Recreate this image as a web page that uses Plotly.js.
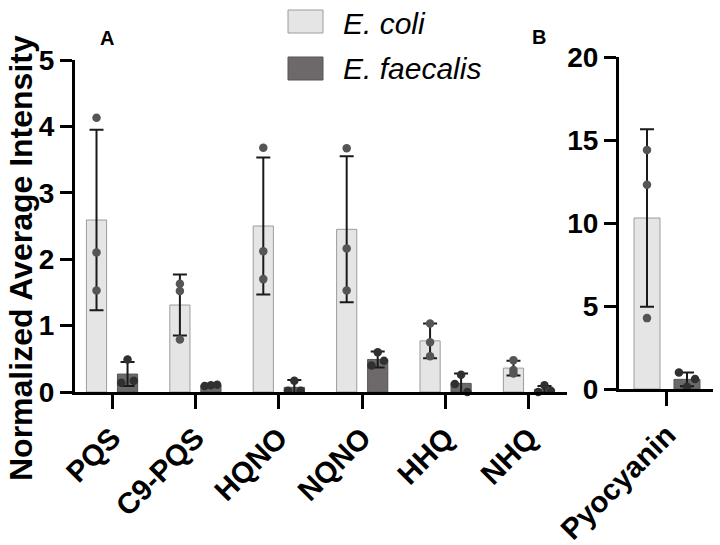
<!DOCTYPE html>
<html>
<head>
<meta charset="utf-8">
<script src="https://cdn.plot.ly/plotly-3.0.1.min.js"></script>
<style>html,body{margin:0;padding:0;background:#fff;}#chart{width:720px;height:545px;}</style>
</head>
<body>
<div id="chart"></div>
<script>
// ---- Data ----
const categoriesA = ['PQS', 'C9-PQS', 'HQNO', 'NQNO', 'HHQ', 'NHQ'];
const ecoliMeanA = [2.59, 1.31, 2.50, 2.45, 0.77, 0.36];
const ecoliSdA = [1.36, 0.46, 1.03, 1.10, 0.26, 0.11];
const faecalisMeanA = [0.27, 0.10, 0.07, 0.49, 0.13, 0.04];
const faecalisSdA = [0.18, 0.01, 0.11, 0.12, 0.15, 0.05];
const ecoliDotsA = [[4.13, 2.10, 1.53], [1.63, 1.52, 0.79], [3.68, 2.12, 1.70], [3.67, 2.16, 1.53], [1.03, 0.75, 0.54], [0.48, 0.28, 0.33]];
const faecalisDotsA = [[0.49, 0.14, 0.17], [0.10, 0.09, 0.11], [0.17, 0.02, 0.02], [0.60, 0.40, 0.47], [0.26, 0.12, 0.00], [0.10, 0.00, 0.02]];

const categoriesB = ['Pyocyanin'];
const ecoliMeanB = [10.3];
const ecoliSdB = [5.35];
const faecalisMeanB = [0.58];
const faecalisSdB = [0.41];
const ecoliDotsB = [[14.4, 12.3, 4.27]];
const faecalisDotsB = [[0.14, 0.99, 0.60]];

const seriesNames = ['E. coli', 'E. faecalis'];

// ---- Styling ----
const W = 720, H = 545;
const BARGAP = 0.256, BARGROUPGAP = 0.35;
const SHIFT = (1 - BARGAP) / 4;
const JIT = [0, -0.075, 0.075];
const ecoliFill = '#e5e5e5', ecoliLine = '#9c9c9c';
const faecFill = '#6d696a', faecLine = '#575455';
const FONT = 'Liberation Sans, Arial, Helvetica, sans-serif';
const px = v => v / W, py = v => 1 - v / H;

function dots(dotsArr, sign, jitter) {
  const xs = [], ys = [];
  dotsArr.forEach((d, i) => d.forEach((v, j) => {
    xs.push(i + sign * SHIFT + (jitter ? JIT[j] : 0));
    ys.push(v);
  }));
  return {x: xs, y: ys};
}
const idxA = categoriesA.map((c, i) => i);
const idxB = categoriesB.map((c, i) => i);

function barTrace(x, y, sd, xa, ya, fill, line, name, group) {
  return {
    type: 'bar', x: x, y: y, xaxis: xa, yaxis: ya, name: name, offsetgroup: group,
    marker: {color: fill, line: {color: line, width: 1}},
    error_y: {type: 'data', array: sd, visible: true, color: '#1a1a1a', thickness: 2, width: 7},
    showlegend: false, hoverinfo: 'y'
  };
}
function dotTrace(d, xa, ya, color) {
  return {
    type: 'scatter', mode: 'markers', x: d.x, y: d.y, xaxis: xa, yaxis: ya,
    marker: {color: color, size: 8.5}, cliponaxis: false, showlegend: false, hoverinfo: 'y'
  };
}

const data = [
  barTrace(idxA, ecoliMeanA, ecoliSdA, 'x', 'y', ecoliFill, ecoliLine, seriesNames[0], 'a'),
  barTrace(idxA, faecalisMeanA, faecalisSdA, 'x', 'y', faecFill, faecLine, seriesNames[1], 'b'),
  barTrace(idxB, ecoliMeanB, ecoliSdB, 'x2', 'y2', ecoliFill, ecoliLine, seriesNames[0], 'a'),
  barTrace(idxB, faecalisMeanB, faecalisSdB, 'x2', 'y2', faecFill, faecLine, seriesNames[1], 'b'),
  dotTrace(dots(ecoliDotsA, -1, false), 'x', 'y', '#555555'),
  dotTrace(dots(faecalisDotsA, 1, true), 'x', 'y', '#303030'),
  dotTrace(dots(ecoliDotsB, -1, false), 'x2', 'y2', '#555555'),
  dotTrace(dots(faecalisDotsB, 1, true), 'x2', 'y2', '#303030')
];

const tickFontX = {family: FONT, size: 29.5, color: '#000', weight: 'bold'};
const tickFontY = {family: FONT, size: 28, color: '#000', weight: 'bold'};
const xCommon = {
  type: 'linear', showline: true, linecolor: '#000', linewidth: 3, ticks: 'outside', ticklen: 14,
  tickwidth: 3, tickcolor: '#000', showgrid: false, zeroline: false, tickangle: -45,
  tickfont: tickFontX, fixedrange: true
};
const yCommon = {
  showline: true, linecolor: '#000', linewidth: 3, ticks: 'outside', ticklen: 12, tickwidth: 3,
  tickcolor: '#000', showgrid: false, zeroline: false, tickfont: tickFontY, fixedrange: true
};

const layout = {
  width: W, height: H,
  margin: {l: 0, r: 0, t: 0, b: 0},
  paper_bgcolor: '#fff', plot_bgcolor: '#fff',
  barmode: 'group', bargap: BARGAP, bargroupgap: BARGROUPGAP,
  showlegend: false,
  xaxis: Object.assign({}, xCommon, {domain: [px(75), px(567)], range: [-0.444, 5.456],
    tickvals: idxA, ticktext: categoriesA, anchor: 'y'}),
  yaxis: Object.assign({}, yCommon, {domain: [py(392), py(60)], range: [0, 5], dtick: 1, anchor: 'x'}),
  xaxis2: Object.assign({}, xCommon, {domain: [px(619), px(713)], range: [-0.4465, 0.428],
    tickvals: idxB, ticktext: categoriesB, anchor: 'y2'}),
  yaxis2: Object.assign({}, yCommon, {domain: [py(389), py(57)], range: [0, 20], dtick: 5, anchor: 'x2'}),
  shapes: [
    {type: 'rect', xref: 'paper', yref: 'paper', x0: px(288), x1: px(323), y0: py(33), y1: py(10),
     fillcolor: ecoliFill, line: {color: ecoliLine, width: 1}},
    {type: 'rect', xref: 'paper', yref: 'paper', x0: px(288), x1: px(323), y0: py(80), y1: py(57),
     fillcolor: faecFill, line: {color: faecLine, width: 1}}
  ],
  annotations: [
    {text: '<i>' + seriesNames[0] + '</i>', xref: 'paper', yref: 'paper', x: px(341), y: py(23),
     xanchor: 'left', yanchor: 'middle', showarrow: false, font: {family: FONT, size: 30, color: '#000'}},
    {text: '<i>' + seriesNames[1] + '</i>', xref: 'paper', yref: 'paper', x: px(341), y: py(69),
     xanchor: 'left', yanchor: 'middle', showarrow: false, font: {family: FONT, size: 30, color: '#000'}},
    {text: 'Normalized Average Intensity', xref: 'paper', yref: 'paper', x: px(21), y: py(258),
     xanchor: 'center', yanchor: 'middle', textangle: -90, showarrow: false, borderpad: 0,
     font: {family: FONT, size: 32, color: '#000', weight: 'bold'}},
    {text: 'A', xref: 'paper', yref: 'paper', x: px(107), y: py(38), xanchor: 'center', yanchor: 'middle',
     showarrow: false, font: {family: FONT, size: 20, color: '#000', weight: 'bold'}},
    {text: 'B', xref: 'paper', yref: 'paper', x: px(539), y: py(37), xanchor: 'center', yanchor: 'middle',
     showarrow: false, font: {family: FONT, size: 20, color: '#000', weight: 'bold'}}
  ]
};

Plotly.newPlot('chart', data, layout, {displayModeBar: false, staticPlot: true});
</script>
</body>
</html>
